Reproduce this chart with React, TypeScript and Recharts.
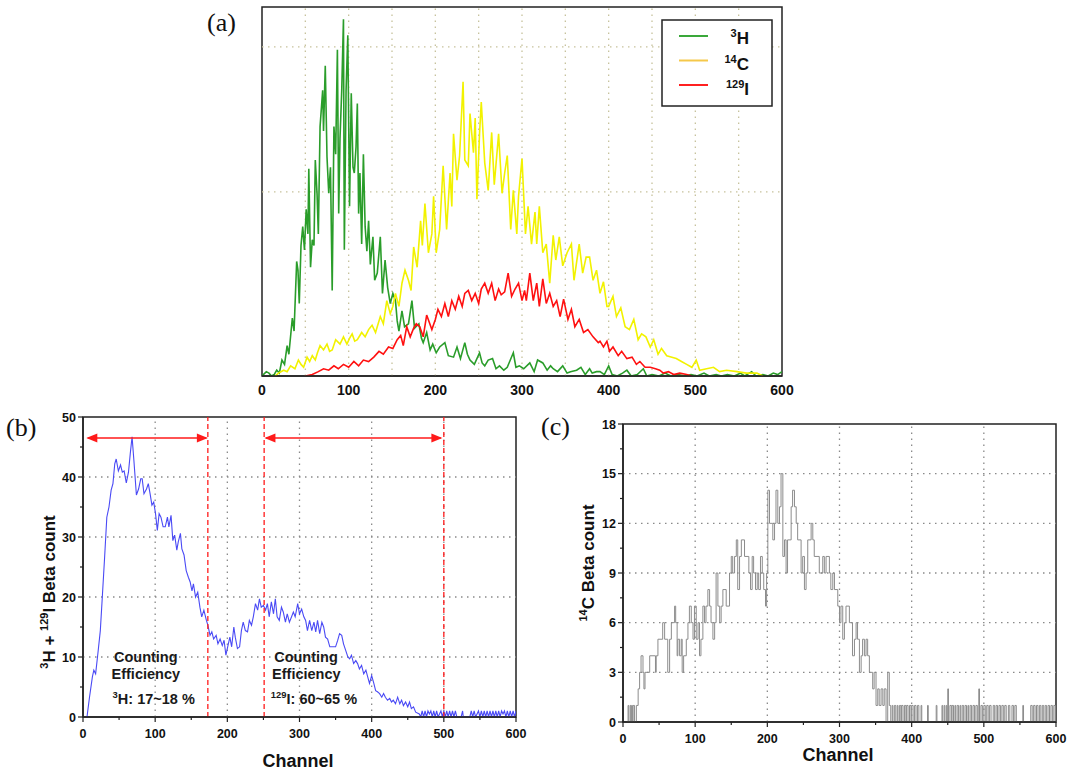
import React from 'react';
import { LineChart, Line, XAxis, YAxis, ReferenceLine, ReferenceArea, ReferenceDot } from 'recharts';

type Pt = [number, number];

// ---------- axis ticks / grid values ----------
const channelTicks = [0, 100, 200, 300, 400, 500, 600];
const channelMinorTicks = [0, 50, 100, 150, 200, 250, 300, 350, 400, 450, 500, 550, 600];
const gridAChannels = [50, 100, 150, 200, 250, 300, 350, 400, 450, 500, 550];
const gridACounts = [127, 227];
const domainACounts: [number, number] = [0, 254.5];
const gridBCChannels = [100, 200, 300, 400, 500];
const bMajorTicks = [0, 10, 20, 30, 40, 50];
const bAllTicks = [0, 5, 10, 15, 20, 25, 30, 35, 40, 45, 50];
const bGrid = [10, 20, 30, 40];
const cMajorTicks = [0, 3, 6, 9, 12, 15, 18];
const cAllTicks = [0, 1.5, 3, 4.5, 6, 7.5, 9, 10.5, 12, 13.5, 15, 16.5, 18];
const cGrid = [3, 6, 9, 12, 15];

// ---------- panel (a) spectra: [channel, counts] ----------
const h3Spectrum: Pt[] = [
  [0, 0], [5, 3], [8, 2], [11, 0], [14, 1], [17, 4], [20, 2], [23, 11], [26, 8], [29, 21], [31, 15], [35, 40], [37, 31],
  [40, 79], [41.5, 73], [43, 50], [45, 90], [47, 103], [49, 87], [51, 115], [53, 98], [54, 143], [56, 75], [58, 94],
  [60, 90], [61.5, 149], [63.5, 126], [65, 98], [67, 172], [70, 197], [71, 169], [73, 214], [75, 151], [77, 126],
  [79, 144], [81, 59], [83, 172], [85, 153], [87, 225], [88.5, 112], [90, 164], [92, 197], [94, 246], [95, 87],
  [97, 197], [99, 235], [101, 117], [103, 195], [105, 144], [106.5, 140], [108.5, 158], [110, 188], [111.5, 112],
  [113, 140], [115, 91], [117, 153], [119, 103], [121, 86], [123, 107], [125, 77], [128, 96], [130, 66], [133, 71],
  [136.5, 96], [139, 57], [142, 80], [145, 61], [148, 50], [151, 57], [154, 52], [156, 38], [158, 31], [161.5, 45],
  [164.5, 34], [169, 36], [173, 52], [176, 33], [181, 36], [184, 26], [186, 23], [190, 30], [194, 18], [197, 22],
  [201, 16], [205, 20], [211, 23], [215, 14], [221, 13], [225, 20], [229, 12], [234, 23], [237, 15], [240, 11],
  [245, 8], [251, 16], [254, 9], [257, 7], [261, 11], [266, 12], [270, 5], [274, 7], [279, 4], [283, 6], [290, 16],
  [293, 6], [297, 7], [302, 5], [309, 9], [314, 3], [318, 11], [324, 9], [329, 4], [333, 7], [336, 5], [341, 3],
  [347, 7], [352, 2], [356, 3], [363, 4], [368, 6], [373, 1], [378, 5], [381, 2], [386, 3], [390, 3], [395, 1],
  [400, 7], [404, 1], [410, 0], [416, 2], [421, 4], [426, 0], [433, 1], [440, 5], [444, 0], [450, 1], [458, 0],
  [465, 2], [472, 0], [480, 1], [488, 0], [495, 1], [502, 0], [510, 2], [516, 0], [524, 1], [530, 0], [537, 1],
  [545, 0], [552, 2], [557, 0], [565, 3], [570, 0], [578, 1], [584, 0], [590, 2], [595, 1], [600, 3],
];

const c14Spectrum: Pt[] = [
  [15, 0], [19, 2], [25, 4], [29, 3], [33, 7], [38, 5], [42, 11], [45, 8], [48, 6], [52, 13], [55, 10], [58, 14],
  [61.5, 11], [64, 16], [67, 21], [71, 18], [75, 22], [78, 17], [81, 18], [85, 25], [90, 22], [94, 27], [98, 22],
  [101, 26], [104, 29], [107, 24], [110, 25], [115, 30], [119, 27], [123, 32], [127, 35], [131, 30], [136.5, 41],
  [140, 36], [144, 52], [148, 43], [151, 48], [154, 57], [158, 48], [161.5, 64], [165, 73], [169, 66], [172, 59],
  [175, 89], [179, 75], [183, 107], [185, 90], [188, 119], [192, 85], [196, 98], [198, 124], [201, 85], [205, 101],
  [209, 145], [213, 101], [217, 140], [219, 117], [221, 167], [225, 135], [228, 152], [232, 203], [234, 149],
  [238, 145], [240, 181], [244, 154], [246, 178], [248, 122], [251, 167], [253, 189], [257, 147], [261, 128],
  [265, 168], [268, 132], [273, 167], [277, 126], [280, 140], [283, 152], [287, 101], [290, 128], [294, 98],
  [296, 124], [300, 150], [304, 98], [307, 117], [311, 91], [315, 113], [317, 91], [320, 117], [324, 85], [328, 91],
  [332, 64], [336, 97], [339, 80], [343, 96], [347, 76], [352, 85], [357, 91], [360, 66], [366, 91], [370, 71],
  [374, 82], [378, 82], [382, 66], [386, 73], [390, 57], [394, 65], [398, 48], [400, 48], [405, 55], [409, 41],
  [414, 47], [419, 34], [424, 32], [429, 39], [434, 25], [438, 29], [443, 27], [448, 20], [452, 25], [457, 15],
  [461, 19], [467, 14], [473, 13], [478, 12], [484, 10], [490, 8], [496, 6], [501, 11], [505, 4], [513, 5], [521, 6],
  [528, 3], [536, 4], [548, 3], [559, 2], [571, 2], [578, 0],
];

const i129Spectrum: Pt[] = [
  [50, 0], [58, 1], [65, 3], [71, 5], [77, 4], [83, 7], [88, 5], [94, 8], [100, 6], [106, 10], [111.5, 7], [117, 11],
  [123, 10], [129, 13], [135, 17], [140, 15], [146, 20], [151, 19], [156, 25], [160, 28], [163, 21], [167, 34],
  [171, 27], [175, 33], [178, 36], [182, 34], [186, 27], [190, 42], [196, 32], [200, 39], [203, 46], [207, 41],
  [211, 50], [215, 41], [219, 52], [223, 46], [227, 55], [231, 48], [234, 57], [238, 59], [242, 52], [246, 57],
  [250, 50], [253, 60], [257, 64], [261, 57], [265, 64], [269, 52], [273, 60], [276, 56], [280, 58], [284, 71],
  [288, 55], [292, 60], [296, 64], [300, 52], [303, 59], [305, 52], [309, 71], [313, 52], [317, 64], [320, 48],
  [324, 67], [328, 50], [332, 57], [336, 48], [340, 52], [344, 41], [348, 53], [353, 39], [357, 46], [361, 34],
  [366, 39], [371, 30], [376, 32], [382, 27], [388, 23], [390, 24], [394, 20], [398, 24], [401, 17], [405, 20],
  [411, 14], [415, 17], [421, 12], [427, 13], [432, 8], [436, 10], [442, 6], [448, 6], [454, 5], [459, 4], [463, 2],
  [469, 3], [475, 1], [482, 2], [490, 1], [496, 0],
];

// ---------- panel (b): 3H + 129I beta count ----------
const mixSpectrum: Pt[] = [
  [5.5, 0], [9, 3.3], [13, 6.7], [15, 7.8], [17.5, 7.2], [21, 11], [24, 14.4], [27, 20.5], [30, 26.7], [33, 33.3],
  [36, 35], [39, 37.8], [41.5, 38.9], [44, 42.2], [46, 43], [49, 41], [52, 42], [54.5, 40.8], [57, 41], [60, 39],
  [63, 40.8], [65.5, 43.9], [68, 46.7], [70.5, 42.8], [74, 37], [77, 38], [80, 39.7], [82, 39.7], [84.5, 37.2],
  [88, 38], [90.5, 38.9], [93, 37.2], [95.5, 35.3], [98, 35.8], [100.5, 33.9], [103, 31.1], [105.5, 33.9], [108, 33.3],
  [111, 31.7], [114, 31.7], [117, 33.3], [119, 31.7], [122, 33.6], [124.5, 29.4], [127, 30.3], [130, 27.8], [132, 29.2],
  [135, 30.6], [137, 28], [140, 27], [143, 24.4], [146, 23.3], [148.5, 22.5], [151, 21], [153, 22.2], [156, 20],
  [159, 20.8], [162, 18.3], [164.5, 16.7], [167.5, 17.8], [171, 16.1], [173, 15.3], [176, 13.6], [178.5, 14.2],
  [181, 13], [184.5, 13.6], [187, 12.2], [190, 13], [193, 11.9], [195.5, 12.8], [198, 10.3], [200.5, 11.7],
  [203.5, 13.3], [206, 11.7], [209, 15], [211, 13.3], [214, 11.4], [217, 11.7], [219.5, 14.4], [222, 15.8],
  [225, 14.4], [228, 14.2], [230.5, 16.1], [233.5, 15.3], [236, 16.7], [239, 18.9], [242, 17.8], [244.5, 19.7],
  [247, 18.3], [250, 18.6], [253, 17.8], [255.5, 18.9], [258, 16.7], [261, 19.2], [264, 17.2], [266.5, 19.7],
  [269, 16.7], [272, 16.1], [275, 18.3], [277.5, 17.5], [280.5, 15.8], [283, 17.2], [286, 15.8], [289, 16.7],
  [291.5, 17.5], [294, 16.7], [297.5, 18.9], [300, 17.2], [303, 18], [306, 16.7], [308.5, 16.1], [311, 14.4],
  [314, 16.1], [317, 14.4], [320, 15.8], [322.5, 14.2], [325, 16.1], [328, 13.9], [331, 15.8], [333.5, 15], [336, 13.3],
  [339, 13], [342, 11.7], [344.5, 11.7], [347, 11.7], [350, 11.7], [353, 12.8], [355.5, 13.9], [358.5, 13.6],
  [361, 12.2], [364, 11.1], [367, 10], [369.5, 9.7], [372, 10.3], [375, 8.9], [378, 9.4], [380.5, 8.9], [383, 8],
  [386, 8.6], [389, 7.2], [392, 7.8], [394.5, 6.7], [397, 5.6], [400, 6.9], [403, 5.6], [405.5, 4.4], [408, 4.2],
  [411, 3.9], [414, 3.3], [416.5, 3.9], [419, 3.3], [422, 2.8], [425, 3.1], [427.5, 2.5], [430, 2.8], [433, 2.2],
  [436, 3.3], [439, 2.2], [441.5, 2.8], [444, 1.9], [447, 2.5], [450, 1.7], [452.5, 2.5], [455, 1.4], [458, 1.7],
  [461, 0.8], [466, 0.5], [468, 0], [470, 1], [472, 0], [474, 1], [476, 0], [478, 1], [480, 0.5], [482, 1], [484, 0],
  [486, 1], [488, 0], [490, 1], [492, 0], [494, 0.5], [496, 1], [498, 0], [500, 1], [502, 0], [504, 1], [506, 0],
  [508, 1], [510, 0], [512, 1], [514, 0], [516, 1], [518, 0], [524, 0], [526, 1], [527, 0], [536, 0], [538, 1],
  [540, 0], [542, 1], [544, 0], [546, 0.5], [548, 1], [550, 0], [552, 1], [554, 0], [556, 1], [558, 0], [560, 1],
  [562, 0], [564, 1], [566, 0], [568, 1], [570, 0], [572, 1], [574, 0], [576, 1], [578, 0], [580, 1], [582, 0.5],
  [584, 1], [586, 0], [588, 1], [590, 0], [592, 1], [594, 0], [596, 1], [598, 0], [600, 1],
];

// ---------- panel (c): 14C beta count ----------
const c14Counts: Pt[] = [
  [5, 0], [7, 1], [8, 0], [10, 1], [11, 0], [12, 1], [13, 0], [14, 1], [16, 0], [18.5, 1], [21, 2], [23, 3], [25, 4],
  [27.7, 3], [29, 2], [30.5, 3], [37, 4], [45, 3], [46, 4], [48.4, 5], [55, 6], [57.7, 5], [62, 3], [64.6, 5], [67, 6],
  [71.5, 7], [73, 6], [75, 4], [76, 5], [78.4, 4], [80.7, 5], [82, 3], [84, 4], [87.7, 5], [90, 6], [92, 7], [94.6, 6],
  [97, 5], [99, 7], [101.5, 5], [104, 6], [106, 4], [108, 5], [110.7, 7], [113, 6], [115, 7], [117.6, 8], [120, 7],
  [122, 6], [124.6, 5], [127, 6], [129, 9], [131.5, 7], [134, 6], [136, 7], [138.4, 8], [143, 7], [147.6, 9],
  [150, 10], [152, 9], [154.6, 10], [157, 11], [159, 8], [161.5, 10], [164, 11], [168.4, 10], [174.4, 9], [176.7, 8],
  [179, 10], [181, 9], [183.6, 8], [186, 9], [188, 8], [190.5, 10], [193, 9], [195, 8], [197.5, 7], [199, 9],
  [200.7, 14], [203, 12], [207.6, 11], [210, 12], [212, 14], [214.5, 12], [216.8, 13], [219, 15], [221.5, 10],
  [223.8, 11], [226, 9], [228, 11], [233, 13], [235, 14], [237.6, 13], [240, 12], [242, 11], [246.8, 9], [249, 10],
  [251.4, 8], [253.7, 9], [256, 11], [260.7, 12], [263, 11], [265, 10], [272, 9], [276.8, 10], [279, 9], [281.4, 10],
  [286, 9], [288, 8], [290.7, 9], [293, 8], [297.6, 7], [300, 6], [302, 7], [304.5, 5], [306.8, 6], [309, 7],
  [313.7, 6], [318, 4], [320.7, 5], [323, 6], [325, 5], [327.6, 3], [330, 4], [332, 5], [334.5, 4], [336.8, 5],
  [339, 4], [341.4, 3], [346, 2], [348, 3], [350.6, 1], [353, 2], [355, 1], [357.6, 2], [360, 1], [362, 2], [364.5, 0],
  [366.8, 3], [369, 1], [371, 0], [373, 1], [374, 0], [376, 1], [378, 0], [380, 1], [381, 0], [383, 1], [385, 0],
  [386, 1], [388, 0], [390, 1], [392, 0], [393, 1], [395, 0], [397, 1], [399, 0], [400, 1], [402, 0], [404, 1],
  [406, 0], [408, 1], [410, 0], [413, 1], [414, 0], [422, 1], [423, 0], [434, 1], [435, 0], [442, 1], [443, 0],
  [445, 1], [446, 0], [448, 1], [449, 0], [450, 2], [451, 0], [453, 1], [455, 0], [456, 1], [458, 0], [460, 1],
  [461, 0], [463, 1], [465, 0], [467, 1], [468, 0], [470, 1], [472, 0], [474, 1], [476, 0], [478, 1], [479, 0],
  [481, 1], [483, 0], [485, 1], [487, 0], [489, 1], [491, 0], [493, 2], [494, 0], [496, 1], [498, 0], [500, 1],
  [502, 0], [504, 1], [506, 0], [508, 1], [510, 0], [513, 1], [515, 0], [517, 1], [519, 0], [521, 1], [523, 0],
  [525, 1], [527, 0], [529, 1], [531, 0], [534, 1], [536, 0], [539, 1], [541, 0], [543, 1], [545, 0], [554, 1],
  [555, 0], [565, 1], [567, 0], [569, 1], [571, 0], [573, 1], [575, 0], [577, 1], [579, 0], [581, 1], [583, 0],
  [585, 1], [587, 0], [589, 1], [591, 0], [593, 1], [595, 0], [597, 1], [599, 0], [600, 1],
];

// ---------- annotations (b) ----------
const windowLines = [173, 251, 500];
const h3Window: [number, number] = [4.6, 173];
const i129Window: [number, number] = [251.4, 498];
const arrowLevel = 46.5;

const rows = (pts: Pt[]) => pts.map(([ch, v]) => ({ ch, v }));

const FONT = "Arial, 'Liberation Sans', Helvetica, sans-serif";
const SERIF = "'Times New Roman', 'Liberation Serif', serif";
const RED = '#ff1a1a';

const TickA = (p: any) => (
  <text x={p.x} y={p.y + 19} textAnchor="middle" fontFamily={FONT} fontWeight="bold" fontSize={14} fill="#111">
    {p.payload.value}
  </text>
);

const makeXTick = (majors: number[]) => (p: any) => {
  const v = p.payload.value;
  const major = majors.includes(v);
  return (
    <g>
      <line x1={p.x} x2={p.x} y1={p.y} y2={p.y + (major ? 5 : 3)} stroke="#222" strokeWidth={1.2} />
      {major && (
        <text x={p.x} y={p.y + 21} textAnchor="middle" fontFamily={FONT} fontWeight="bold" fontSize={12.5} fill="#111">
          {v}
        </text>
      )}
    </g>
  );
};

const makeYTick = (majors: number[]) => (p: any) => {
  const v = p.payload.value;
  const major = majors.includes(v);
  return (
    <g>
      <line x1={p.x} x2={p.x - (major ? 5 : 3)} y1={p.y} y2={p.y} stroke="#222" strokeWidth={1.2} />
      {major && (
        <text x={p.x - 7} y={p.y + 4.5} textAnchor="end" fontFamily={FONT} fontWeight="bold" fontSize={12.5} fill="#111">
          {v}
        </text>
      )}
    </g>
  );
};

const XTickBC = makeXTick(channelTicks);
const YTickB = makeYTick(bMajorTicks);
const YTickC = makeYTick(cMajorTicks);

const ArrowHead = (dir: 'left' | 'right') => (p: any) => {
  const { cx, cy } = p;
  const s = dir === 'left' ? 1 : -1;
  return <polygon points={`${cx},${cy} ${cx + s * 11},${cy - 4.5} ${cx + s * 11},${cy + 4.5}`} fill={RED} />;
};

const TextAt = (lines: React.ReactNode, opts: { size: number; bold?: boolean }) => (p: any) => (
  <text x={p.cx} y={p.cy} textAnchor="middle" fontFamily={FONT} fontSize={opts.size} fontWeight={opts.bold ? 'bold' : 'normal'} fill="#1a1a1a">
    {lines}
  </text>
);

const sup = (s: string, size: number) => (
  <>
    <tspan fontSize={size * 0.65} dy={-size * 0.4}>{s}</tspan>
  </>
);

const PanelA = () => (
  <LineChart
    width={600}
    height={400}
    margin={{ top: 7, right: 18, bottom: 0, left: 62 }}
    style={{ position: 'absolute', left: 200, top: 0 }}
  >
    <XAxis
      type="number"
      dataKey="ch"
      domain={[0, 600]}
      ticks={channelTicks}
      interval={0}
      allowDataOverflow
      axisLine={{ stroke: '#222', strokeWidth: 1.5 }}
      tickLine={false}
      tickSize={0}
      tickMargin={0}
      tick={TickA}
      height={24}
    />
    <YAxis hide type="number" domain={domainACounts} allowDataOverflow />
    {gridAChannels.map((c) => (
      <ReferenceLine key={'gx' + c} x={c} stroke="#c7c29c" strokeDasharray="1.5 4.5" strokeWidth={1.3} />
    ))}
    {gridACounts.map((c) => (
      <ReferenceLine key={'gy' + c} y={c} stroke="#c7c29c" strokeDasharray="1.5 4.5" strokeWidth={1.3} />
    ))}
    <Line data={rows(h3Spectrum)} dataKey="v" name="3H" stroke="#2a9d2a" strokeWidth={1.6} dot={false} isAnimationActive={false} />
    <Line data={rows(c14Spectrum)} dataKey="v" name="14C" stroke="#f2f200" strokeWidth={1.6} dot={false} isAnimationActive={false} />
    <Line data={rows(i129Spectrum)} dataKey="v" name="129I" stroke="#ff1010" strokeWidth={1.6} dot={false} isAnimationActive={false} />
    <ReferenceArea x1={0} x2={600} y1={domainACounts[0]} y2={domainACounts[1]} fill="none" fillOpacity={0} stroke="#222" strokeWidth={1.5} />
  </LineChart>
);

const PanelB = () => (
  <LineChart
    width={540}
    height={375}
    margin={{ top: 17, right: 24, bottom: 28, left: 0 }}
    style={{ position: 'absolute', left: 0, top: 400 }}
  >
    <XAxis
      type="number"
      dataKey="ch"
      domain={[0, 600]}
      ticks={channelMinorTicks}
      interval={0}
      allowDataOverflow
      axisLine={{ stroke: '#222', strokeWidth: 1.5 }}
      tickLine={false}
      tickSize={0}
      tickMargin={0}
      tick={XTickBC}
      height={30}
    />
    <YAxis
      type="number"
      domain={[0, 50]}
      ticks={bAllTicks}
      interval={0}
      allowDataOverflow
      width={83}
      axisLine={{ stroke: '#222', strokeWidth: 1.5 }}
      tickLine={false}
      tickSize={0}
      tickMargin={0}
      tick={YTickB}
    />
    {gridBCChannels.map((c) => (
      <ReferenceLine key={'gx' + c} x={c} stroke="#8a8a8a" strokeDasharray="1.5 4.5" strokeWidth={1.3} />
    ))}
    {bGrid.map((c) => (
      <ReferenceLine key={'gy' + c} y={c} stroke="#8a8a8a" strokeDasharray="1.5 4.5" strokeWidth={1.3} />
    ))}
    <Line data={rows(mixSpectrum)} dataKey="v" name="3H + 129I" stroke="#4a4af5" strokeWidth={1.1} dot={false} isAnimationActive={false} />
    {windowLines.map((c) => (
      <ReferenceLine key={'w' + c} x={c} stroke={RED} strokeDasharray="5 3" strokeWidth={1.3} />
    ))}
    <ReferenceLine segment={[{ x: h3Window[0] + 2, y: arrowLevel }, { x: h3Window[1] - 2, y: arrowLevel }]} stroke={RED} strokeWidth={1.6} />
    <ReferenceLine segment={[{ x: i129Window[0] + 2, y: arrowLevel }, { x: i129Window[1] - 2, y: arrowLevel }]} stroke={RED} strokeWidth={1.6} />
    <ReferenceDot x={h3Window[0]} y={arrowLevel} r={0} shape={ArrowHead('left')} />
    <ReferenceDot x={h3Window[1]} y={arrowLevel} r={0} shape={ArrowHead('right')} />
    <ReferenceDot x={i129Window[0]} y={arrowLevel} r={0} shape={ArrowHead('left')} />
    <ReferenceDot x={i129Window[1]} y={arrowLevel} r={0} shape={ArrowHead('right')} />
    <ReferenceDot x={87} y={9.2} r={0} shape={TextAt('Counting', { size: 14.5, bold: true })} />
    <ReferenceDot x={87} y={6.4} r={0} shape={TextAt('Efficiency', { size: 14.5, bold: true })} />
    <ReferenceDot
      x={98}
      y={2.2}
      r={0}
      shape={TextAt(<>{sup('3', 14.5)}<tspan dy={14.5 * 0.4}>H: 17~18 %</tspan></>, { size: 14.5, bold: true })}
    />
    <ReferenceDot x={309} y={9.2} r={0} shape={TextAt('Counting', { size: 14.5, bold: true })} />
    <ReferenceDot x={309.5} y={6.4} r={0} shape={TextAt('Efficiency', { size: 14.5, bold: true })} />
    <ReferenceDot
      x={320}
      y={2.2}
      r={0}
      shape={TextAt(<>{sup('129', 14.5)}<tspan dy={14.5 * 0.4}>I: 60~65 %</tspan></>, { size: 14.5, bold: true })}
    />
    <ReferenceArea x1={0} x2={600} y1={0} y2={50} fill="none" fillOpacity={0} stroke="#222" strokeWidth={1.5} />
  </LineChart>
);

const PanelC = () => (
  <LineChart
    width={531}
    height={375}
    margin={{ top: 24, right: 15, bottom: 23, left: 0 }}
    style={{ position: 'absolute', left: 540, top: 400 }}
  >
    <XAxis
      type="number"
      dataKey="ch"
      domain={[0, 600]}
      ticks={channelMinorTicks}
      interval={0}
      allowDataOverflow
      axisLine={{ stroke: '#222', strokeWidth: 1.5 }}
      tickLine={false}
      tickSize={0}
      tickMargin={0}
      tick={XTickBC}
      height={30}
    />
    <YAxis
      type="number"
      domain={[0, 18]}
      ticks={cAllTicks}
      interval={0}
      allowDataOverflow
      width={83}
      axisLine={{ stroke: '#222', strokeWidth: 1.5 }}
      tickLine={false}
      tickSize={0}
      tickMargin={0}
      tick={YTickC}
    />
    {gridBCChannels.map((c) => (
      <ReferenceLine key={'gx' + c} x={c} stroke="#8a8a8a" strokeDasharray="1.5 4.5" strokeWidth={1.3} />
    ))}
    {cGrid.map((c) => (
      <ReferenceLine key={'gy' + c} y={c} stroke="#8a8a8a" strokeDasharray="1.5 4.5" strokeWidth={1.3} />
    ))}
    <Line data={rows(c14Counts)} type="stepAfter" dataKey="v" name="14C" stroke="#8c8c8c" strokeWidth={1} dot={false} isAnimationActive={false} />
    <ReferenceArea x1={0} x2={600} y1={0} y2={18} fill="none" fillOpacity={0} stroke="#222" strokeWidth={1.5} />
  </LineChart>
);

const legendItems = [
  { sup: '3', base: 'H', line: '#3aa83a' },
  { sup: '14', base: 'C', line: '#f5c84a' },
  { sup: '129', base: 'I', line: '#ff2020' },
];

const Overlay = () => (
  <svg width={1071} height={775} style={{ position: 'absolute', left: 0, top: 0, pointerEvents: 'none' }}>
    <text x={207} y={31} fontFamily={SERIF} fontSize={26} fill="#111">(a)</text>
    <text x={6} y={436} fontFamily={SERIF} fontSize={26} fill="#111">(b)</text>
    <text x={541} y={435} fontFamily={SERIF} fontSize={26} fill="#111">(c)</text>

    {/* legend of panel (a) */}
    <rect x={662} y={20} width={110} height={86} fill="#fff" stroke="#222" strokeWidth={1.5} />
    {legendItems.map((it, i) => (
      <g key={it.base}>
        <line x1={679} x2={708} y1={36 + i * 24.5} y2={36 + i * 24.5} stroke={it.line} strokeWidth={2} />
        <text x={749} y={44 + i * 25.5} textAnchor="end" fontFamily={FONT} fontWeight="bold" fontSize={17} fill="#111">
          <tspan fontSize={11} dy={-7}>{it.sup}</tspan>
          <tspan dy={7}>{it.base}</tspan>
        </text>
      </g>
    ))}

    {/* axis titles */}
    <text transform="translate(55,592) rotate(-90)" textAnchor="middle" fontFamily={FONT} fontWeight="bold" fontSize={17} fill="#111">
      <tspan fontSize={11} dy={-7}>3</tspan>
      <tspan dy={7}>H + </tspan>
      <tspan fontSize={11} dy={-7}>129</tspan>
      <tspan dy={7}>I Beta count</tspan>
    </text>
    <text x={298} y={767} textAnchor="middle" fontFamily={FONT} fontWeight="bold" fontSize={18} fill="#111">Channel</text>

    <text transform="translate(594,563) rotate(-90)" textAnchor="middle" fontFamily={FONT} fontWeight="bold" fontSize={17} fill="#111">
      <tspan fontSize={11} dy={-7}>14</tspan>
      <tspan dy={7}>C Beta count</tspan>
    </text>
    <text x={838} y={761} textAnchor="middle" fontFamily={FONT} fontWeight="bold" fontSize={18} fill="#111">Channel</text>
  </svg>
);

export default function App() {
  return (
    <div style={{ position: 'absolute', left: 0, top: 0, width: 1071, height: 775, background: '#fff', overflow: 'hidden' }}>
      <PanelA />
      <PanelB />
      <PanelC />
      <Overlay />
    </div>
  );
}
